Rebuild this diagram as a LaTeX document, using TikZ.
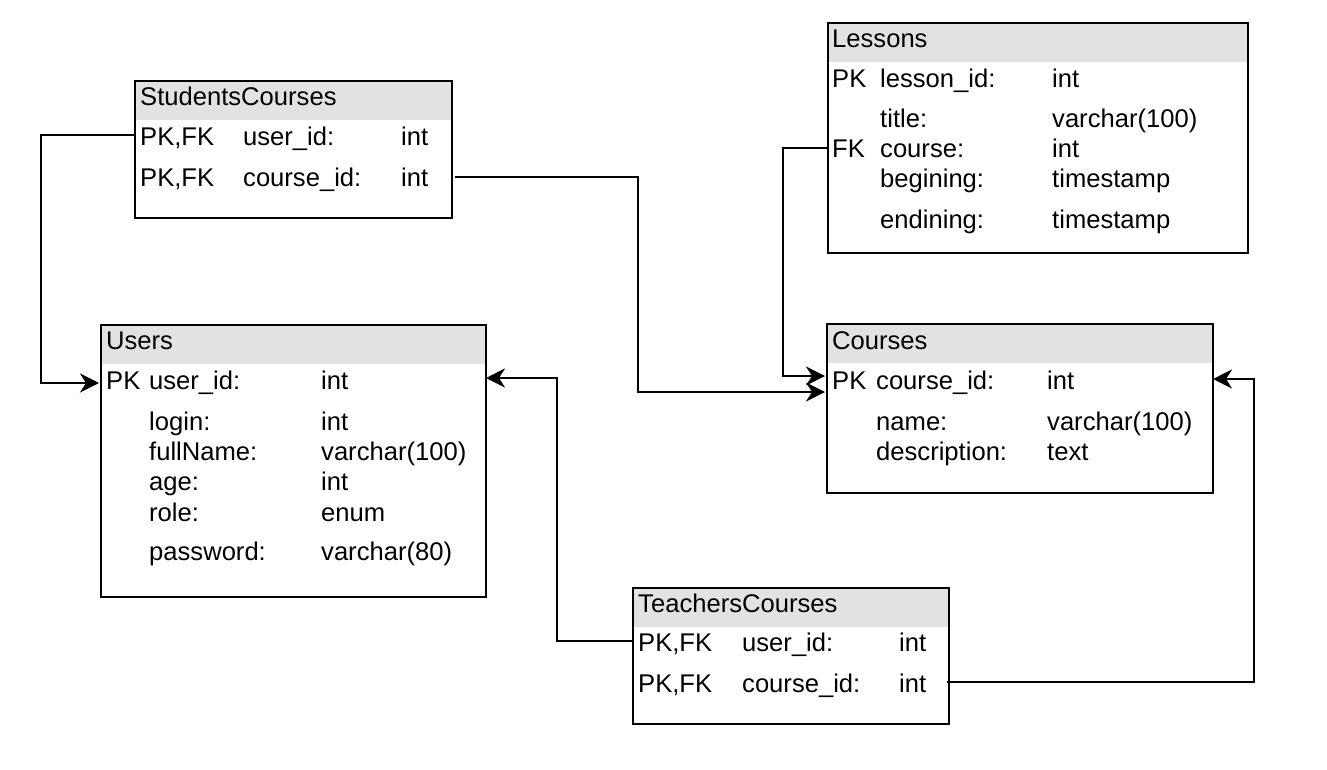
\documentclass[tikz,border=0pt]{standalone}
\usepackage{fontspec}
\setmainfont{Liberation Sans}
\usetikzlibrary{arrows.meta}
\definecolor{hdrgray}{RGB}{226,226,226}
\tikzset{
  tbl/.style={draw=black, line width=2pt, anchor=north west, inner sep=0pt, rectangle},
  hdrbox/.style={fill=hdrgray, anchor=north west, inner sep=0pt, minimum height=40pt},
  txt/.style={anchor=base west, inner sep=0pt, font=\fontsize{25.6}{30}\selectfont},
  conn/.style={line width=2pt, -{Stealth[length=19pt,width=19pt,inset=6pt]}},
}
\begin{document}
\begin{tikzpicture}[x=1pt,y=-1pt]
\useasboundingbox (0,0) rectangle (1327,770);

% ---------- StudentsCourses ----------
\node[hdrbox, minimum width=317pt] (scH) at (134,80) {};
\node[tbl, minimum width=317pt, minimum height=137pt] (sc) at (134,80) {};
\node[txt] (scT) at (140,106) {StudentsCourses};
\node[txt] (scK1) at (140,146) {PK,FK};
\node[txt] (scN1) at (243,146) {user\_id:};
\node[txt] (scY1) at (401,146) {int};
\node[txt] (scK2) at (140,187) {PK,FK};
\node[txt] (scN2) at (243,187) {course\_id:};
\node[txt] (scY2) at (401,187) {int};

% ---------- Users ----------
\node[hdrbox, minimum width=385pt] (uH) at (100,324) {};
\node[tbl, minimum width=385pt, minimum height=272pt] (users) at (100,324) {};
\node[txt] (uT) at (106,349) {Users};
\node[txt] (uK1) at (106,389) {PK};
\node[txt] (uN1) at (149,389) {user\_id:};
\node[txt] (uY1) at (321,389) {int};
\node[txt] (uN2) at (149,430) {login:};
\node[txt] (uY2) at (321,430) {int};
\node[txt] (uN3) at (149,460) {fullName:};
\node[txt] (uY3) at (321,460) {varchar(100)};
\node[txt] (uN4) at (149,490) {age:};
\node[txt] (uY4) at (321,490) {int};
\node[txt] (uN5) at (149,521) {role:};
\node[txt] (uY5) at (321,521) {enum};
\node[txt] (uN6) at (149,560) {password:};
\node[txt] (uY6) at (321,560) {varchar(80)};

% ---------- Lessons ----------
\node[hdrbox, minimum width=420pt] (lH) at (827,22) {};
\node[tbl, minimum width=420pt, minimum height=230pt] (lessons) at (827,22) {};
\node[txt] (lT) at (832,48) {Lessons};
\node[txt] (lK1) at (832,88) {PK};
\node[txt] (lN1) at (880,88) {lesson\_id:};
\node[txt] (lY1) at (1052,88) {int};
\node[txt] (lN2) at (880,128) {title:};
\node[txt] (lY2) at (1052,128) {varchar(100)};
\node[txt] (lK3) at (832,158) {FK};
\node[txt] (lN3) at (880,158) {course:};
\node[txt] (lY3) at (1052,158) {int};
\node[txt] (lN4) at (880,188) {begining:};
\node[txt] (lY4) at (1052,188) {timestamp};
\node[txt] (lN5) at (880,228) {endining:};
\node[txt] (lY5) at (1052,228) {timestamp};

% ---------- Courses ----------
\node[hdrbox, minimum width=386pt] (cH) at (826,323) {};
\node[tbl, minimum width=386pt, minimum height=169pt] (courses) at (826,323) {};
\node[txt] (cT) at (832,349) {Courses};
\node[txt] (cK1) at (832,389) {PK};
\node[txt] (cN1) at (876,389) {course\_id:};
\node[txt] (cY1) at (1047,389) {int};
\node[txt] (cN2) at (876,430) {name:};
\node[txt] (cY2) at (1047,430) {varchar(100)};
\node[txt] (cN3) at (876,460) {description:};
\node[txt] (cY3) at (1047,460) {text};

% ---------- TeachersCourses ----------
\node[hdrbox, minimum width=316pt] (tcH) at (632,587) {};
\node[tbl, minimum width=316pt, minimum height=136pt] (tc) at (632,587) {};
\node[txt] (tcT) at (638,612) {TeachersCourses};
\node[txt] (tcK1) at (638,651) {PK,FK};
\node[txt] (tcN1) at (742,651) {user\_id:};
\node[txt] (tcY1) at (899,651) {int};
\node[txt] (tcK2) at (638,692) {PK,FK};
\node[txt] (tcN2) at (742,692) {course\_id:};
\node[txt] (tcY2) at (899,692) {int};

% ---------- ports ----------
\coordinate (scU) at (134,135);
\coordinate (scC) at (455,177);
\coordinate (uPKw) at (99,383);
\coordinate (uPKe) at (486,378);
\coordinate (lFK) at (827,148);
\coordinate (cPK1) at (825,376);
\coordinate (cPK2) at (825,392);
\coordinate (cPKe) at (1213,379);
\coordinate (tcU) at (632,641);
\coordinate (tcC) at (947,682);

% ---------- connectors ----------
\draw[conn] (scU) -- (41,135) |- (uPKw);
\draw[conn] (scC) -- (638,177) |- (cPK2);
\draw[conn] (lFK) -- (783,148) |- (cPK1);
\draw[conn] (tcU) -- (557,641) |- (uPKe);
\draw[conn] (tcC) -- (1254,682) |- (cPKe);
\end{tikzpicture}
\end{document}
